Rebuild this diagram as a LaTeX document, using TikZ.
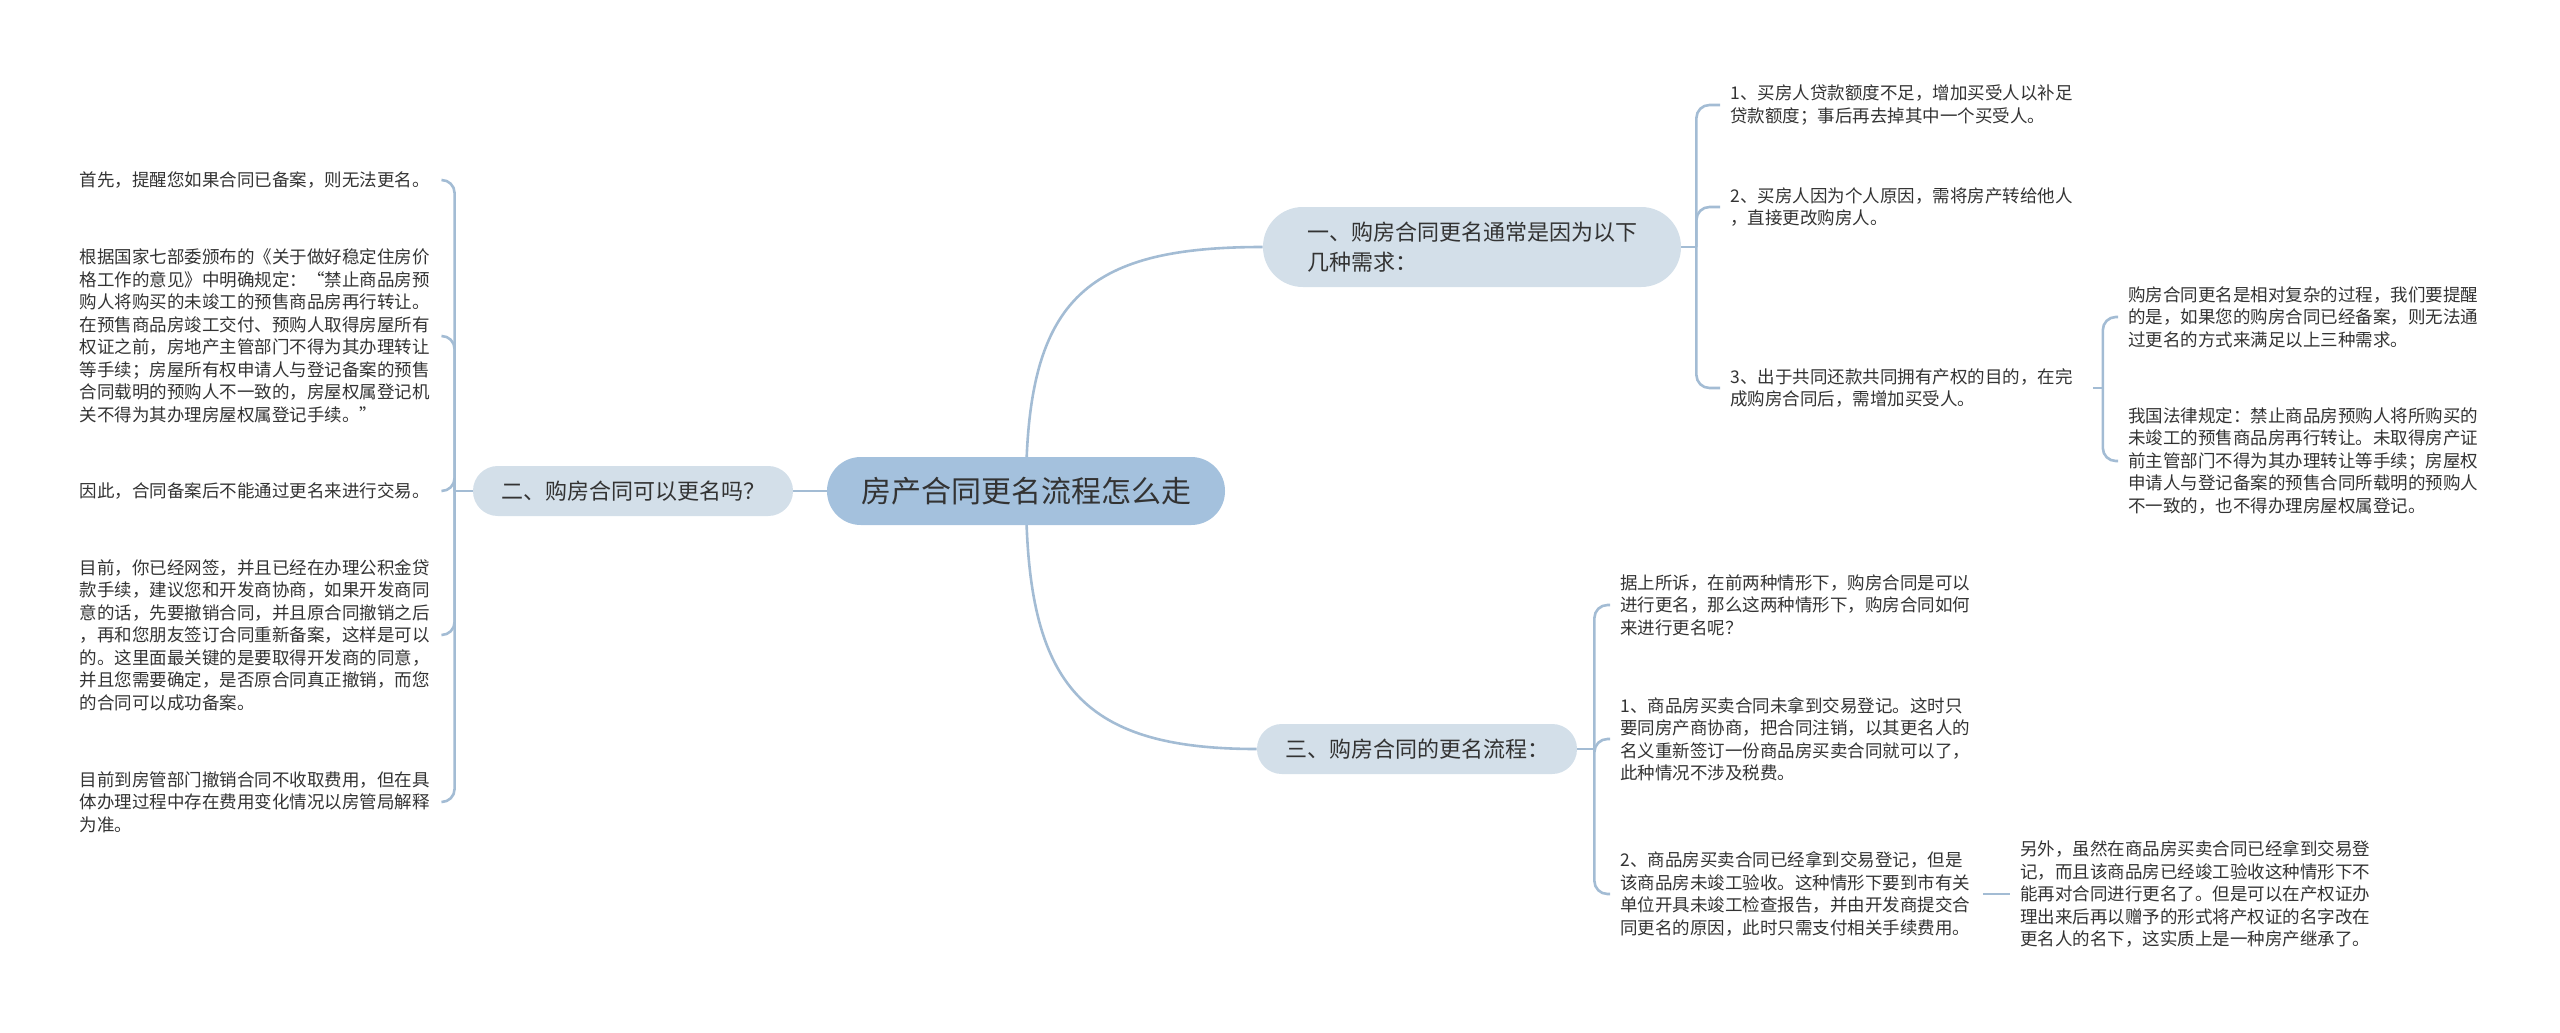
\documentclass[tikz,border=0pt]{standalone}
\usepackage{fontspec}
\setmainfont{Noto Sans CJK SC}
\usetikzlibrary{backgrounds}
\definecolor{bleuracine}{HTML}{A4C1DD}
\definecolor{bleubranche}{HTML}{D3DFE9}
\definecolor{bleulien}{HTML}{A3BCD4}
\definecolor{gristexte}{HTML}{333333}
\begin{document}
\begin{tikzpicture}[x=0.5pt,y=-0.5pt,
	racine/.style={fill=bleuracine,rounded corners=16.9pt,minimum height=34pt,inner xsep=17pt,text=gristexte,font=\fontsize{15}{18}\selectfont},
	branche/.style={fill=bleubranche,rounded corners=12.4pt,minimum height=25pt,inner xsep=14pt,text=gristexte,font=\fontsize{11}{15}\selectfont},
	feuille/.style={text=gristexte,align=left,text width=176pt,inner sep=5pt,font=\fontsize{8.75}{11.25}\selectfont},
	lien/.style={draw=bleulien,line width=1.3pt,rounded corners=6.5pt}]
	\useasboundingbox (0,0) rectangle (2560,1033);
	% le centre et les trois branches
	\node[racine] (root) at (1026,491) {房产合同更名流程怎么走};
	\node[branche,align=left,minimum height=40pt,rounded corners=19.9pt,inner xsep=22pt] (b1) at (1472,247) {一、购房合同更名通常是因为以下\\几种需求：};
	\node[branche] (b2) at (633,491) {二、购房合同可以更名吗？};
	\node[branche] (b3) at (1417,749) {三、购房合同的更名流程：};
	% branche un
	\node[feuille,anchor=west] (c11) at (1720,105) {1、买房人贷款额度不足，增加买受人以补足\\贷款额度；事后再去掉其中一个买受人。};
	\node[feuille,anchor=west] (c12) at (1720,207) {2、买房人因为个人原因，需将房产转给他人\\，直接更改购房人。};
	\node[feuille,anchor=west] (c13) at (1720,388) {3、出于共同还款共同拥有产权的目的，在完\\成购房合同后，需增加买受人。};
	\node[feuille,anchor=west] (c131) at (2118,317) {购房合同更名是相对复杂的过程，我们要提醒\\的是，如果您的购房合同已经备案，则无法通\\过更名的方式来满足以上三种需求。};
	\node[feuille,anchor=west] (c132) at (2118,461) {我国法律规定：禁止商品房预购人将所购买的\\未竣工的预售商品房再行转让。未取得房产证\\前主管部门不得为其办理转让等手续；房屋权\\申请人与登记备案的预售合同所载明的预购人\\不一致的，也不得办理房屋权属登记。};
	% branche deux
	\node[feuille,anchor=east] (c21) at (442,180) {首先，提醒您如果合同已备案，则无法更名。};
	\node[feuille,anchor=east] (c22) at (442,336) {根据国家七部委颁布的《关于做好稳定住房价\\格工作的意见》中明确规定：“禁止商品房预\\购人将购买的未竣工的预售商品房再行转让。\\在预售商品房竣工交付、预购人取得房屋所有\\权证之前，房地产主管部门不得为其办理转让\\等手续；房屋所有权申请人与登记备案的预售\\合同载明的预购人不一致的，房屋权属登记机\\关不得为其办理房屋权属登记手续。”};
	\node[feuille,anchor=east] (c23) at (442,491) {因此，合同备案后不能通过更名来进行交易。};
	\node[feuille,anchor=east] (c24) at (442,635) {目前，你已经网签，并且已经在办理公积金贷\\款手续，建议您和开发商协商，如果开发商同\\意的话，先要撤销合同，并且原合同撤销之后\\，再和您朋友签订合同重新备案，这样是可以\\的。这里面最关键的是要取得开发商的同意，\\并且您需要确定，是否原合同真正撤销，而您\\的合同可以成功备案。};
	\node[feuille,anchor=east] (c25) at (442,802) {目前到房管部门撤销合同不收取费用，但在具\\体办理过程中存在费用变化情况以房管局解释\\为准。};
	% branche trois
	\node[feuille,anchor=west] (c31) at (1610,605) {据上所诉，在前两种情形下，购房合同是可以\\进行更名，那么这两种情形下，购房合同如何\\来进行更名呢？};
	\node[feuille,anchor=west] (c32) at (1610,739) {1、商品房买卖合同未拿到交易登记。这时只\\要同房产商协商，把合同注销，以其更名人的\\名义重新签订一份商品房买卖合同就可以了，\\此种情况不涉及税费。};
	\node[feuille,anchor=west] (c33) at (1610,894) {2、商品房买卖合同已经拿到交易登记，但是\\该商品房未竣工验收。这种情形下要到市有关\\单位开具未竣工检查报告，并由开发商提交合\\同更名的原因，此时只需支付相关手续费用。};
	\node[feuille,anchor=west] (c331) at (2010,894) {另外，虽然在商品房买卖合同已经拿到交易登\\记，而且该商品房已经竣工验收这种情形下不\\能再对合同进行更名了。但是可以在产权证办\\理出来后再以赠予的形式将产权证的名字改在\\更名人的名下，这实质上是一种房产继承了。};
	% les points de jonction
	\coordinate (j1) at ([xshift=7.5pt]b1.east);
	\coordinate (j2) at ([xshift=-9pt]b2.west);
	\coordinate (j3) at ([xshift=8.5pt]b3.east);
	\coordinate (j13) at ([xshift=5pt]c13.east);
	\begin{pgfonlayer}{background}
		\draw[lien] (root.center) -- (b2.center);
		\draw[lien] (root.center) .. controls +(0,-190) and +(-180,0) .. (b1.west);
		\draw[lien] (root.center) .. controls +(0,190) and +(-180,0) .. (b3.west);
		\draw[lien] (b1.east) -- (j1);
		\draw[lien] (b2.west) -- (j2);
		\draw[lien] (b3.east) -- (j3);
		\draw[lien] (c13.east) -- (j13);
		\draw[lien] (c33.east) -- (c331.west);
		\foreach \c in {c11,c12,c13} \draw[lien] (j1) |- (\c.west);
		\foreach \c in {c131,c132} \draw[lien] (j13) |- (\c.west);
		\foreach \c in {c21,c22,c23,c24,c25} \draw[lien] (j2) |- (\c.east);
		\foreach \c in {c31,c32,c33} \draw[lien] (j3) |- (\c.west);
	\end{pgfonlayer}
\end{tikzpicture}
\end{document}
